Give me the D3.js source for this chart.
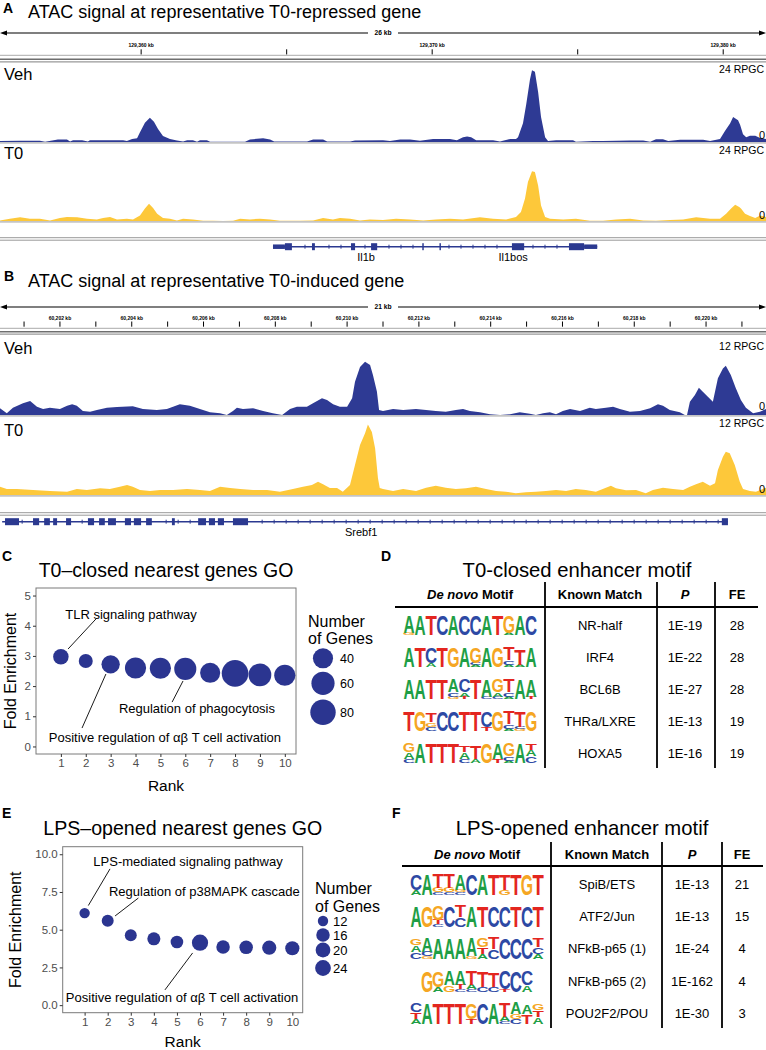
<!DOCTYPE html>
<html><head><meta charset="utf-8">
<script src="https://cdn.jsdelivr.net/npm/d3@7"></script>
<style>body{margin:0;background:#fff} svg{display:block} text{font-family:"Liberation Sans",Arial,Helvetica,sans-serif}</style>
</head><body><svg id="fig" width="766" height="1050"></svg>
<script>
// ================= DATA =================
// Panel A: genomic window (kb) and ATAC signal (offset kb from window start, RPGC)
const regionA = [129355.15, 129381.47];
const rulerTicksA = [129360, 129365, 129370, 129375, 129380];
const rulerLabelsA = [129360, 129370, 129380];
const vehA = [[0,0.3],[0.69,0.4],[1.37,0.4],[1.55,0.1],[1.99,0.8],[2.30,0.8],[2.41,0.2],[2.51,0.6],[2.82,0.6],[3.02,0.2],[3.09,0.6],[4.23,0.6],[4.36,0.3],[4.54,1.0],[4.71,1.2],[4.81,3.1],[4.98,6.2],[5.15,7.8],[5.29,6.5],[5.43,4.2],[5.60,1.9],[5.84,1.0],[6.08,0.5],[6.29,0.2],[6.43,0.6],[6.63,0.6],[6.77,0.1],[6.87,0.6],[7.11,0.6],[7.22,0.1],[8.42,0.1],[8.59,0.8],[9.04,1.2],[9.28,0.8],[9.42,0.2],[10.55,0.2],[10.76,0.8],[11.10,0.8],[11.24,0.2],[12.03,0.2],[12.20,0.5],[13.16,0.6],[13.40,0.3],[13.75,0.8],[14.09,0.8],[14.43,0.4],[14.88,1.0],[15.46,1.0],[15.70,0.6],[15.91,1.5],[16.05,1.8],[16.19,1.5],[16.36,0.6],[16.94,0.6],[17.18,0.2],[17.53,1.0],[17.73,1.0],[17.80,1.5],[17.97,6],[18.08,12],[18.21,20],[18.28,23],[18.38,22.5],[18.49,16],[18.59,8],[18.73,1.5],[18.83,0.3],[19.11,0.6],[19.69,0.6],[19.79,0.1],[20.38,0.3],[20.72,0.3],[21.65,0.5],[22.10,0.5],[22.34,0.1],[22.54,0.9],[22.78,0.9],[22.96,0.3],[23.37,0.7],[24.16,0.7],[24.40,0.3],[24.74,1.0],[24.91,3.5],[25.09,6],[25.19,8],[25.36,7],[25.43,5.5],[25.53,2.5],[25.64,1.5],[25.77,2.0],[25.95,2.0],[26.12,1.3],[26.32,1.0]];
const t0A = [[0,0.2],[0.34,0.75],[0.69,1.2],[1.03,0.75],[1.37,0.75],[1.72,0.2],[2.06,1.0],[2.30,1.3],[2.65,1.2],[2.99,0.75],[3.33,0.5],[3.54,1.0],[3.78,1.3],[4.02,0.5],[4.36,0.75],[4.57,0.5],[4.81,1.8],[4.98,4.0],[5.12,5.5],[5.26,4.2],[5.40,2.35],[5.60,1.0],[5.84,0.75],[6.08,0.2],[6.29,0.75],[6.63,0.5],[6.98,0.1],[7.32,0.1],[7.66,0],[8.01,0.1],[8.25,0.75],[8.59,0.5],[8.93,0.75],[9.28,0.5],[9.62,0.1],[9.97,0.1],[10.31,0.1],[10.76,0.2],[11.10,1.0],[11.44,0.5],[11.68,1.0],[12.03,0.75],[12.37,0.2],[12.71,0.5],[13.16,0.3],[13.61,0.75],[14.09,0.5],[14.54,0.2],[14.98,0.5],[15.46,0.75],[15.91,0.5],[16.49,1.2],[16.94,0.75],[17.39,0.5],[17.73,1.3],[17.90,2.9],[18.04,7.2],[18.14,12.5],[18.28,15.9],[18.38,15.7],[18.49,11.4],[18.59,5.0],[18.73,1.3],[18.90,0.75],[19.35,0.5],[19.79,0.75],[20.27,0.1],[20.72,0.1],[21.17,0.5],[21.65,0.75],[22.10,0.2],[22.54,0.1],[23.02,0.3],[23.47,0.5],[23.92,1.2],[24.40,0.75],[24.74,0.75],[24.95,2.35],[25.12,4.0],[25.26,5.2],[25.40,4.5],[25.46,4.0],[25.60,2.35],[25.77,1.6],[25.95,1.0],[26.12,1.8],[26.32,1.3]];
const geneA = {span:[9.38,20.52],
  exons:[[9.38,9.79,0],[9.79,10.03,1],[10.72,10.82,1],[12.06,12.20,1],[12.75,12.96,1],[14.51,14.56,1],[15.10,15.15,1],[17.59,18.01,1],[19.55,20.07,1],[20.07,20.52,0]],
  labels:[["Il1b",12.58],["Il1bos",17.63]]};

// Panel B
const regionB = [60200.33, 60221.67];
const rulerTicksB = [60201,60202,60203,60204,60205,60206,60207,60208,60209,60210,60211,60212,60213,60214,60215,60216,60217,60218,60219,60220,60221];
const rulerLabelsB = [60202,60204,60206,60208,60210,60212,60214,60216,60218,60220];
const vehB = [[0,1.08],[0.19,0.27],[0.36,1.19],[0.64,1.89],[0.84,2.27],[1.03,1.35],[1.20,0.97],[1.39,1.19],[1.67,0.97],[1.87,1.51],[2.01,1.73],[2.14,1.51],[2.31,0.65],[2.51,0.54],[2.70,0.81],[2.98,1.19],[3.26,1.3],[3.70,1.4],[3.98,0.97],[4.37,0.81],[4.65,0.97],[4.82,1.35],[5.01,1.73],[5.29,1.51],[5.57,0.97],[5.85,0.43],[6.13,0.27],[6.32,0],[6.49,0.65],[6.60,1.19],[6.77,0.97],[7.05,1.08],[7.33,0.65],[7.60,0.27],[7.86,0],[8.08,0.97],[8.27,1.35],[8.55,1.35],[8.72,1.89],[8.97,2.7],[9.11,2.43],[9.28,1.73],[9.47,1.35],[9.67,1.35],[9.81,2.7],[9.89,5.4],[10.03,7.8],[10.17,8.64],[10.31,8.1],[10.39,6.5],[10.50,3.8],[10.56,0.81],[10.67,0.65],[10.95,0.97],[11.23,0.81],[11.59,0.97],[11.87,0.81],[12.14,0.65],[12.42,0.54],[12.70,0.81],[12.90,0.97],[13.09,0.65],[13.37,0.43],[13.65,0.11],[13.93,0],[14.21,0.11],[14.48,0.43],[14.76,0.22],[14.93,0],[15.13,0.27],[15.32,0.43],[15.49,0.11],[15.68,0.65],[15.88,0.97],[16.16,0.65],[16.43,1.19],[16.60,0.97],[16.88,1.19],[17.08,1.35],[17.27,0.97],[17.55,0.54],[17.83,0.65],[18.11,1.08],[18.33,1.73],[18.47,1.51],[18.66,0.81],[18.94,0.43],[19.08,0],[19.14,0],[19.22,2.16],[19.36,3.24],[19.47,4.43],[19.58,3.78],[19.72,2.97],[19.86,2.16],[20.00,5.94],[20.14,7.56],[20.22,8.0],[20.36,6.48],[20.50,4.32],[20.64,2.43],[20.78,1.19],[20.98,0.27],[21.17,0.54],[21.34,0.97]];
const t0B = [[0,1.33],[0.19,0.96],[0.47,0.96],[0.92,0.8],[1.39,0.64],[1.87,0.53],[2.14,0.96],[2.42,0.8],[2.79,1.07],[3.06,0.96],[3.34,1.33],[3.54,1.6],[3.70,1.33],[3.90,0.8],[4.18,0.64],[4.46,0.8],[4.82,0.8],[5.21,0.96],[5.57,0.8],[5.85,0.64],[6.13,1.33],[6.41,1.12],[6.69,0.96],[7.05,0.8],[7.44,0.8],[7.80,0.53],[8.16,0.96],[8.44,1.33],[8.69,1.6],[8.86,2.13],[9.00,1.71],[9.19,1.12],[9.39,1.12],[9.55,0.53],[9.75,1.6],[9.89,4.8],[10.03,8.0],[10.17,9.87],[10.25,11.3],[10.36,10.1],[10.45,7.47],[10.53,2.67],[10.58,1.12],[10.67,0.96],[10.95,0.64],[11.23,0.96],[11.59,0.64],[11.87,1.17],[12.14,1.49],[12.42,1.17],[12.70,0.96],[12.98,1.07],[13.26,1.33],[13.54,0.96],[13.82,0.64],[14.09,0.53],[14.37,0.27],[14.65,0.43],[14.93,0.53],[15.21,0.64],[15.49,0.8],[15.77,0.64],[16.04,0.96],[16.32,0.8],[16.60,0.53],[16.88,1.17],[17.02,1.49],[17.16,1.07],[17.44,0.75],[17.72,0.8],[17.99,0.27],[18.19,0.8],[18.47,1.17],[18.75,0.96],[19.03,0.8],[19.22,1.33],[19.39,1.71],[19.58,2.13],[19.78,1.49],[19.92,1.87],[20.00,4.0],[20.14,6.13],[20.22,6.93],[20.33,6.67],[20.47,4.8],[20.61,2.13],[20.70,0.96],[20.89,0.64],[21.06,0.53],[21.25,0.96],[21.34,1.17]];
const geneB = {span:[0.06,20.28],
  exons:[[0.14,0.53,1],[0.92,1.09,1],[1.23,1.39,1],[1.48,1.59,1],[1.84,1.98,1],[2.45,2.62,1],[2.76,2.92,1],[3.01,3.23,1],[3.48,3.65,1],[3.73,3.93,1],[4.07,4.23,1],[4.79,4.87,1],[5.52,5.74,1],[5.82,5.99,1],[6.07,6.24,1],[6.49,6.91,1],[20.11,20.28,1]],
  labels:[["Srebf1",10.06]]};

// Panel C: GO bubble plot (T0-closed)
const rankC = [1,2,3,4,5,6,7,8,9,10];
const foldC = [2.97,2.83,2.72,2.60,2.59,2.57,2.44,2.42,2.37,2.36];
const genesC = [25,24,32,46,46,52,40,92,57,46];
const legendC = [40,60,80];
const yTicksC = [0,1,2,3,4,5];
const notesC = [
  {text:"TLR signaling pathway", at:[3.82,4.39], line:[[2.45,4.26],[1.29,3.23]]},
  {text:"Regulation of phagocytosis", at:[6.47,1.27], line:[[5.47,1.47],[5.91,2.17]]},
  {text:"Positive regulation of \u03b1\u03b2 T cell activation", at:[5.18,0.31], line:[[1.85,0.61],[2.81,2.40]]}];

// Panel E: GO bubble plot (LPS-opened)
const rankE = [1,2,3,4,5,6,7,8,9,10];
const foldE = [6.10,5.59,4.63,4.40,4.18,4.14,3.85,3.83,3.81,3.77];
const genesE = [12,13,13,15,14,26,16,16,18,18];
const legendE = [12,16,20,24];
const yTicksE = [0,2.5,5,7.5,10];
const notesE = [
  {text:"LPS-mediated signaling pathway", at:[5.48,9.55], line:[[2.10,9.03],[1.16,6.60]]},
  {text:"Regulation of p38MAPK cascade", at:[6.19,7.57], line:[[3.33,7.10],[2.32,5.91]]},
  {text:"Positive regulation of \u03b1\u03b2 T cell activation", at:[5.22,0.54], line:[[4.48,1.01],[5.68,3.46]]}];

// Panel D: motif table (T0-closed)
const motifsD = [
  ["A8G1","A9","T9","C9","A9","C9","C9","A9","T9","G8A1","A9","C9"],
  ["A9","T9","C7A2","T9","G9","A9","G7A1C1","A9","G9","T6C2A1","T7A1","A9"],
  ["A9","A9","T9","T9","A6C2G1","C6A2T1","T9","A8C1","G6A2C1","T6C2A1","A9","A8T1"],
  ["T9","G9","T4C2G2","C9","C9","T9","T9","C7T2","G9","T6C2A1","T7G1C1","G9"],
  ["G4A3C2","A9","T9","T9","T9","A3T3C2","T6A2","G9","A7T2","G6C2A1","A9","C3A3T3"]];
const matchD = ["NR-half","IRF4","BCL6B","THRa/LXRE","HOXA5"];
const pD = ["1E-19","1E-22","1E-27","1E-13","1E-16"];
const feD = ["28","28","28","19","19"];

// Panel F: motif table (LPS-opened)
const motifsF = [
  ["C7A2","A9","T6G2C1","T6G2C1","A7C1G1","C9","A9","T9","T7G2","T9","G9","T9"],
  ["A9","G9","G6T2C1","C9","T5C4","A9","T9","C9","C9","T9","C9","T9"],
  ["C3A3G3","A6C2G1","A9","A9","A9","A8G1","G4T3A2","T5C4","C9","C9","C9","T4C3A2"],
  ["G9","G7A2","A6G3","A6T2C1","T6A2C1","T7C2","T6C2","C8T1","C9","C6A3"],
  ["C4T3A2","A9","T9","T9","T9","G7T2","C9","A9","T6A2C1","A5C2G2","T4A4","A3T3G3"]];
const matchF = ["SpiB/ETS","ATF2/Jun","NFkB-p65 (1)","NFkB-p65 (2)","POU2F2/POU"];
const pF = ["1E-13","1E-13","1E-24","1E-162","1E-30"];
const feF = ["21","15","4","4","3"];

// ================= DRAWING =================
const W = 766;
const svg = d3.select("#fig");
const NAVY = "#2e3a94", GOLD = "#fdc83a", GENE = "#2b3990", BUB = "#2b3590";

function label(g, x, y, s, size, o = {}) {
  return g.append("text").attr("x", x).attr("y", y + size * 0.36)
    .attr("font-size", size).attr("text-anchor", o.anchor || "start")
    .attr("font-weight", o.weight || "normal").attr("font-style", o.style || "normal")
    .attr("fill", o.fill || "#000").text(s);
}

function genomePanel(P) {
  const g = svg.append("g");
  const x = d3.scaleLinear().domain(P.region).range([0, W]);
  const at = off => x(P.region[0] + off);
  label(g, P.letterPos[0], P.letterPos[1], P.letter, 14, {weight: "bold"});
  label(g, P.titlePos[0], P.titlePos[1], P.title, 18);
  // scale bar
  const sy = P.scaleY;
  g.append("line").attr("x1", 4).attr("x2", W - 4).attr("y1", sy).attr("y2", sy).attr("stroke", "#000").attr("stroke-width", 1.2);
  g.append("path").attr("d", `M0,${sy}L7,${sy - 2.6}L7,${sy + 2.6}Z M${W},${sy}L${W - 7},${sy - 2.6}L${W - 7},${sy + 2.6}Z`).attr("fill", "#000");
  g.append("rect").attr("x", 368).attr("y", sy - 4).attr("width", 30).attr("height", 8).attr("fill", "#fff");
  label(g, 383, sy, Math.round(P.region[1] - P.region[0]) + " kb", 6.7, {anchor: "middle", weight: "bold"});
  // ruler
  P.ticks.forEach(t => g.append("line").attr("x1", x(t)).attr("x2", x(t)).attr("y1", P.tickY[0]).attr("y2", P.tickY[1]).attr("stroke", "#000").attr("stroke-width", 1));
  P.tickLabels.forEach(t => label(g, x(t), P.tickLblY, d3.format(",")(t) + " kb", 5, {anchor: "middle", weight: "bold"}));
  g.append("line").attr("x1", 0).attr("x2", W).attr("y1", P.rulerY).attr("y2", P.rulerY).attr("stroke", "#aaa").attr("stroke-width", 1);
  g.append("line").attr("x1", 0).attr("x2", W).attr("y1", P.dbl[0]).attr("y2", P.dbl[0]).attr("stroke", "#6e6e6e").attr("stroke-width", 1.6);
  g.append("line").attr("x1", 0).attr("x2", W).attr("y1", P.dbl[1]).attr("y2", P.dbl[1]).attr("stroke", "#999").attr("stroke-width", 1.2);
  // tracks
  P.tracks.forEach(T => {
    const y = d3.scaleLinear().domain([0, T.max]).range([T.y0, T.yTop]);
    g.append("line").attr("x1", 0).attr("x2", W).attr("y1", T.y0 + 0.9).attr("y2", T.y0 + 0.9).attr("stroke", "#c4c4c4").attr("stroke-width", 1.8);
    g.append("path").datum(T.data).attr("d", d3.area().x(d => at(d[0])).y0(y(0)).y1(d => y(d[1]))).attr("fill", T.color);
    label(g, 4, T.nameY, T.name, 16.5);
    label(g, W - 2, T.maxY, T.max + " RPGC", 10.5, {anchor: "end"});
    label(g, W - 1, T.zeroY, "0", 11, {anchor: "end"});
  });
  // gene track separator
  P.geneDbl.forEach(yy => g.append("line").attr("x1", 0).attr("x2", W).attr("y1", yy).attr("y2", yy).attr("stroke", "#999").attr("stroke-width", 1));
  const G = P.gene, gy = P.geneY;
  const gx0 = at(G.span[0]), gx1 = at(G.span[1]);
  g.append("line").attr("x1", gx0).attr("x2", gx1).attr("y1", gy).attr("y2", gy).attr("stroke", GENE).attr("stroke-width", 1.5);
  const ex = G.exons.map(e => [at(e[0]), at(e[1])]);
  for (let px = gx0 + 8; px < gx1 - 4; px += 12) {
    if (ex.some(e => px > e[0] - 3 && px < e[1] + 3)) continue;
    g.append("line").attr("x1", px).attr("x2", px).attr("y1", gy - 2).attr("y2", gy + 2).attr("stroke", GENE).attr("stroke-width", 1);
  }
  G.exons.forEach(e => {
    const h = e[2] ? 7 : 4.5;
    g.append("rect").attr("x", at(e[0])).attr("width", Math.max(1.2, at(e[1]) - at(e[0]))).attr("y", gy - h / 2).attr("height", h).attr("fill", GENE);
  });
  G.labels.forEach(l => label(g, at(l[1]), P.geneLblY, l[0], 11, {anchor: "middle"}));
}

genomePanel({
  letter: "A", letterPos: [3, 8], title: "ATAC signal at representative T0-repressed gene", titlePos: [28, 12],
  region: regionA, scaleY: 33, ticks: rulerTicksA, tickLabels: rulerLabelsA, tickLblY: 45.5, tickY: [49.3, 54.5],
  rulerY: 55.3, dbl: [59.3, 61.8],
  tracks: [
    {name: "Veh", data: vehA, color: NAVY, max: 24, y0: 142, yTop: 67, nameY: 74, maxY: 69, zeroY: 135},
    {name: "T0", data: t0A, color: GOLD, max: 24, y0: 221, yTop: 146, nameY: 153, maxY: 150, zeroY: 215}],
  geneDbl: [237.7, 240.2], geneY: 246.7, geneLblY: 257.5, gene: geneA});

genomePanel({
  letter: "B", letterPos: [4, 276], title: "ATAC signal at representative T0-induced gene", titlePos: [28, 280.5],
  region: regionB, scaleY: 307, ticks: rulerTicksB, tickLabels: rulerLabelsB, tickLblY: 318.3, tickY: [321.5, 326.7],
  rulerY: 328.3, dbl: [331.7, 334.1],
  tracks: [
    {name: "Veh", data: vehB, color: NAVY, max: 12, y0: 415, yTop: 341, nameY: 348, maxY: 346, zeroY: 406},
    {name: "T0", data: t0B, color: GOLD, max: 12, y0: 495, yTop: 420, nameY: 430, maxY: 423, zeroY: 489}],
  geneDbl: [512.7, 515.2], geneY: 521.7, geneLblY: 532, gene: geneB});

// ---------- bubble panels ----------
function bubblePanel(P) {
  const g = svg.append("g");
  label(g, P.letterPos[0], P.letterPos[1], P.letter, 14, {weight: "bold"});
  label(g, (P.L + P.R) / 2, P.titleY, P.title, P.titleSize, {anchor: "middle"});
  const x = d3.scaleLinear().domain(P.xDom).range([P.L, P.R]);
  const y = d3.scaleLinear().domain(P.yDom).range([P.B, P.T]);
  const t = d3.scaleLinear().domain(P.nDom).range([0, 1]).clamp(true);
  const rs = d3.scaleLinear().domain([0, 1]).range(P.rRange);
  const r = n => rs(Math.sqrt(t(n)));
  g.append("rect").attr("x", P.L).attr("y", P.T).attr("width", P.R - P.L).attr("height", P.B - P.T)
    .attr("fill", "#fff").attr("stroke", "#7a7a7a").attr("stroke-width", 1);
  // axes
  const ya = g.append("g").attr("transform", `translate(${P.L},0)`)
    .call(d3.axisLeft(y).tickValues(P.yTicks).tickSize(3).tickPadding(2).tickFormat(P.yFmt));
  const xa = g.append("g").attr("transform", `translate(0,${P.B})`)
    .call(d3.axisBottom(x).tickValues(P.ranks).tickSize(3).tickPadding(2).tickFormat(d3.format("d")));
  [ya, xa].forEach(a => {
    a.select(".domain").remove();
    a.selectAll(".tick line").attr("stroke", "#333").attr("stroke-width", 1);
    a.selectAll(".tick text").attr("fill", "#4d4d4d").attr("font-size", 11.5)
      .attr("font-family", '"Liberation Sans",Arial,sans-serif');
  });
  label(g, (P.L + P.R) / 2, P.xTitleY, "Rank", 15.5, {anchor: "middle"});
  g.append("text").attr("transform", `translate(${P.yTitleX},${(P.T + P.B) / 2}) rotate(-90)`)
    .attr("text-anchor", "middle").attr("font-size", 16).attr("dy", "0.36em").text("Fold Enrichment");
  // annotation lines
  P.notes.forEach(nt => {
    g.append("line").attr("x1", x(nt.line[0][0])).attr("y1", y(nt.line[0][1]))
      .attr("x2", x(nt.line[1][0])).attr("y2", y(nt.line[1][1])).attr("stroke", "#000").attr("stroke-width", 0.9);
  });
  // bubbles
  const data = P.ranks.map((k, i) => ({k, f: P.fold[i], n: P.genes[i]}));
  g.selectAll("circle.b").data(data).join("circle").attr("class", "b")
    .attr("cx", d => x(d.k)).attr("cy", d => y(d.f)).attr("r", d => r(d.n)).attr("fill", BUB);
  P.notes.forEach(nt => label(g, x(nt.at[0]), y(nt.at[1]), nt.text, 13, {anchor: "middle"}));
  // legend
  label(g, P.leg.x, P.leg.y1, "Number", 16);
  label(g, P.leg.x, P.leg.y2, "of Genes", 16);
  P.legend.forEach((v, i) => {
    g.append("circle").attr("cx", P.leg.cx).attr("cy", P.leg.cy[i]).attr("r", r(v)).attr("fill", BUB);
    label(g, P.leg.tx, P.leg.cy[i], String(v), P.leg.fs);
  });
}

bubblePanel({
  letter: "C", letterPos: [2, 556], title: "T0\u2013closed nearest genes GO", titleY: 570, titleSize: 19.5,
  L: 36, R: 296, T: 588, B: 754, xDom: [0, 10.45], yDom: [-0.25, 5.25],
  ranks: rankC, fold: foldC, genes: genesC, yTicks: yTicksC, yFmt: d3.format("d"),
  nDom: [24, 92], rRange: [7, 13.3], notes: notesC, xTitleY: 785.5, yTitleX: 10,
  legend: legendC, leg: {x: 308, y1: 621.7, y2: 638.3, cx: 323, cy: [658.3, 683.3, 712.3], tx: 340, fs: 12.5}});

bubblePanel({
  letter: "E", letterPos: [2, 813], title: "LPS\u2013opened nearest genes GO", titleY: 828, titleSize: 19.6,
  L: 62.7, R: 302.7, T: 846.7, B: 1012.7, xDom: [0.05, 10.45], yDom: [-0.5, 10.5],
  ranks: rankE, fold: foldE, genes: genesE, yTicks: yTicksE, yFmt: d3.format(".1f"),
  nDom: [12, 26], rRange: [5.2, 8.1], notes: notesE, xTitleY: 1041.5, yTitleX: 15,
  legend: legendE, leg: {x: 315, y1: 888.3, y2: 906.7, cx: 323, cy: [921, 935, 950, 968], tx: 333, fs: 13}});

// ---------- motif tables ----------
const LETTER_COL = {A: "#1e9e45", C: "#2d49a4", G: "#f5a623", T: "#e3261f"};
const INK_W = {A: 0.70, C: 0.64, G: 0.68, T: 0.58};
function drawLogo(g, cols, cx, baseY, colW, fullH) {
  const x0 = cx - cols.length * colW / 2;
  cols.forEach((c, i) => {
    const parts = c.match(/[ACGT]\d/g).map(p => ({l: p[0], w: +p[1] / 9}));
    parts.sort((a, b) => a.w - b.w);
    let yb = baseY;
    parts.forEach(p => {
      const h = p.w * fullH;
      const fs = 10;
      const sx = colW * 0.97 / (INK_W[p.l] * fs);
      const sy = h / (0.716 * fs);
      g.append("text").attr("transform", `translate(${x0 + (i + 0.5) * colW},${yb}) scale(${sx},${sy})`)
        .attr("text-anchor", "middle").attr("font-size", fs).attr("font-weight", "bold")
        .attr("fill", LETTER_COL[p.l]).text(p.l);
      yb -= h;
    });
  });
}

function motifTable(P) {
  const g = svg.append("g");
  label(g, P.letterPos[0], P.letterPos[1], P.letter, 14, {weight: "bold"});
  label(g, P.titleX, P.titleY, P.title, 20.3, {anchor: "middle"});
  const hy = P.headY + 13 * 0.36;
  const h1 = g.append("text").attr("x", P.cols[0]).attr("y", hy).attr("text-anchor", "middle")
    .attr("font-size", 13).attr("font-weight", "bold");
  h1.append("tspan").attr("font-style", "italic").text("De novo");
  h1.append("tspan").text(" Motif");
  label(g, P.cols[1], P.headY, "Known Match", 13, {anchor: "middle", weight: "bold"});
  label(g, P.cols[2], P.headY, "P", 13, {anchor: "middle", weight: "bold", style: "italic"});
  label(g, P.cols[3], P.headY, "FE", 13, {anchor: "middle", weight: "bold"});
  g.append("line").attr("x1", P.rule[0]).attr("x2", P.rule[1]).attr("y1", P.ruleY).attr("y2", P.ruleY)
    .attr("stroke", "#000").attr("stroke-width", 2);
  P.vlines.forEach(vx => g.append("line").attr("x1", vx).attr("x2", vx).attr("y1", P.vY[0]).attr("y2", P.vY[1])
    .attr("stroke", "#000").attr("stroke-width", 1.8));
  P.rows.forEach((ry, i) => {
    drawLogo(g, P.motifs[i], P.cols[0], ry + P.fullH / 2, 11.1, P.fullH);
    label(g, P.cols[1], ry, P.match[i], 13, {anchor: "middle"});
    label(g, P.cols[2], ry, P.p[i], 13, {anchor: "middle"});
    label(g, P.cols[3], ry, P.fe[i], 13, {anchor: "middle"});
  });
}

motifTable({
  letter: "D", letterPos: [381, 556], title: "T0-closed enhancer motif", titleX: 577, titleY: 570,
  headY: 594, cols: [470, 600, 685, 737], rule: [395, 758], ruleY: 607, vlines: [545, 657, 715], vY: [582, 768],
  rows: [625, 657, 689, 721, 753], fullH: 20, motifs: motifsD, match: matchD, p: pD, fe: feD});

motifTable({
  letter: "F", letterPos: [392, 813], title: "LPS-opened enhancer motif", titleX: 582, titleY: 828,
  headY: 854, cols: [477, 607, 692, 742], rule: [402, 763], ruleY: 866, vlines: [551, 662, 722], vY: [842, 1028],
  rows: [884, 916, 948, 981, 1013], fullH: 21, motifs: motifsF, match: matchF, p: pF, fe: feF});
</script></body></html>
